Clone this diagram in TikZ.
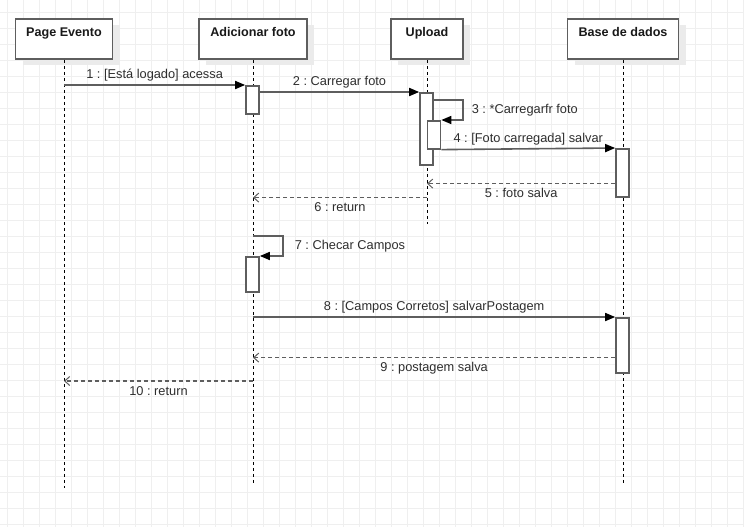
\documentclass[tikz,border=0pt]{standalone}
\usepackage{fontspec}
\setmainfont{Liberation Sans}
\usetikzlibrary{calc}
\usetikzlibrary{arrows.meta}
\usetikzlibrary{shadows}

\definecolor{linegray}{HTML}{5E5E5E}
\definecolor{txtgray}{HTML}{2E2E2E}
\definecolor{gridgray}{HTML}{EFEFEF}
\definecolor{shadowgray}{HTML}{EBEBEB}

\tikzset{
  head/.style={draw=linegray, line width=1.6pt, fill=white, minimum height=40pt, inner sep=0pt,
    drop shadow={shadow xshift=7pt, shadow yshift=-6pt, fill=shadowgray, opacity=1}},
  headtxt/.style={anchor=base, inner sep=0pt, font=\fontsize{12.6}{14}\selectfont\bfseries, text=black!90},
  act/.style={draw=linegray, line width=1.6pt, fill=white, minimum width=13pt, inner sep=0pt, anchor=north},
  lifeline/.style={black, line width=0.9pt, dash pattern=on 3pt off 3pt},
  msg/.style={linegray, line width=1.6pt, -{Triangle[length=10pt,width=8pt,color=black]}},
  ret/.style={linegray, line width=1.7pt, dash pattern=on 4pt off 3pt, -{Straight Barb[length=5pt,width=9pt,line width=1pt]}},
  lbl/.style={inner sep=0pt, text=txtgray, font=\fontsize{12.8}{14}\selectfont},
}

\begin{document}
\frenchspacing
\begin{tikzpicture}[x=1pt, y=-1pt]
\useasboundingbox (0,0) rectangle (744,527);
\fill[white] (0,0) rectangle (744,527);

% grid
\foreach \gx in {7,23,...,743} \draw[gridgray, line width=0.8pt] (\gx,0) -- (\gx,527);
\foreach \gy in {12,28,...,524} \draw[gridgray, line width=0.8pt] (0,\gy) -- (744,\gy);

% lifeline heads
\node[head, minimum width=97pt] (pe) at (64,39) {};
\node[head, minimum width=108pt] (af) at (253,39) {};
\node[head, minimum width=72pt] (up) at (427,39) {};
\node[head, minimum width=111pt] (bd) at (623,39) {};
\foreach \n/\t in {pe/Page Evento, af/Adicionar foto, up/Upload, bd/Base de dados}
  \node[headtxt] (\n-t) at ($(\n.north)+(0,18)$) {\t};

\coordinate (pe-end) at (64,488);
\coordinate (af-end) at (253,483);
\coordinate (up-end) at (427,224);
\coordinate (bd-end) at (623,483);
\foreach \n in {pe,af,up,bd} \draw[lifeline] (\n.south) -- (\n-end);

% activations
\node[act, minimum height=28pt] (a1) at (252.5,85) {};
\node[act, minimum height=72pt] (u1) at (426.5,92) {};
\node[act, minimum height=28pt] (u2) at (434,120) {};
\node[act, minimum height=48pt] (b1) at (622.5,148) {};
\node[act, minimum height=35pt] (a2) at (252.5,256) {};
\node[act, minimum height=55pt] (b2) at (622.5,317) {};

% messages
\draw[msg] (pe |- a1.north) -- (a1.north west) node[lbl, midway, anchor=base, yshift=6.5pt] {1 : [Está logado] acessa};
\draw[msg] (a1.east |- u1.north) -- (u1.north west) node[lbl, midway, anchor=base, yshift=6.5pt] {2 : Carregar foto};
\coordinate (s3) at (463,100);
\draw[msg] (u1.east |- s3) -- (s3) |- (u2.north east) node[lbl, pos=0.25, anchor=west, xshift=8pt] {3 : *Carregarfr foto};
\draw[msg] (u2.south east) -- (b1.north west) node[lbl, midway, anchor=base, yshift=6.5pt] {4 : [Foto carregada] salvar};
\draw[ret] ($(b1.south west)+(0,-14)$) coordinate (r5) -- (up |- r5) node[lbl, midway, anchor=base, yshift=-14pt] {5 : foto salva};
\draw[ret] (up |- b1.south) -- (af |- b1.south) node[lbl, midway, anchor=base, yshift=-14pt] {6 : return};
\coordinate (s7) at (283,236);
\draw[msg] (af |- s7) -- (s7) |- (a2.north east) node[lbl, pos=0.25, anchor=west, xshift=11pt] {7 : Checar Campos};
\draw[msg] (af |- b2.north) -- (b2.north west) node[lbl, midway, anchor=base, yshift=6.5pt] {8 : [Campos Corretos] salvarPostagem};
\draw[ret] ($(b2.south west)+(0,-16)$) coordinate (r9) -- (af |- r9) node[lbl, midway, anchor=base, yshift=-14pt] {9 : postagem salva};
\coordinate (r10) at (253,381);
\draw[ret] (r10) -- (pe |- r10) node[lbl, midway, anchor=base, yshift=-14pt] {10 : return};

\end{tikzpicture}
\end{document}
